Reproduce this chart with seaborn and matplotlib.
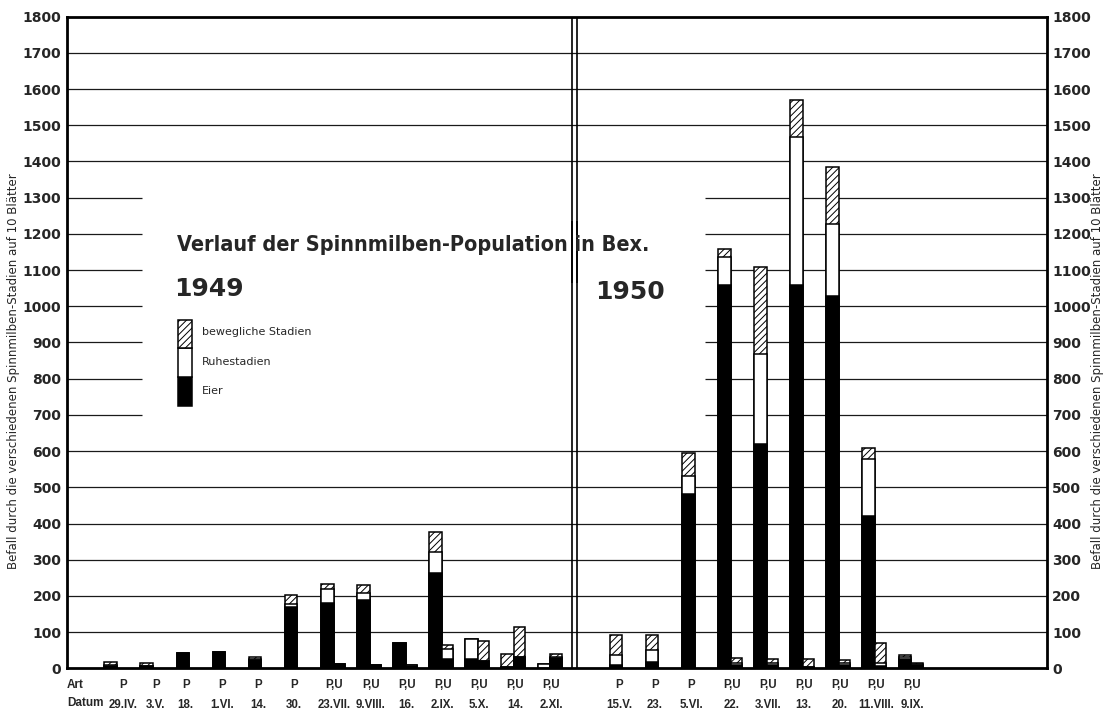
import numpy as np
import pandas as pd
import matplotlib.pyplot as plt
import seaborn as sns
from matplotlib.patches import Rectangle

# --- Datos (Befall auf 10 Blätter) ---
# 1949
datum_49 = ["29.IV.", "3.V.", "18.", "1.VI.", "14.", "30.", "23.VII.",
            "9.VIII.", "16.", "2.IX.", "5.X.", "14.", "2.XI."]
art_49 = ["P", "P", "P", "P", "P", "P", "P,U", "P,U", "P,U", "P,U", "P,U", "P,U", "P,U"]
p_eier_49 = [6, 5, 41, 44, 24, 170, 181, 190, 69, 262, 25, 3, 2]
p_ruhe_49 = [3, 2, 0, 0, 2, 8, 37, 19, 0, 60, 55, 0, 10]
p_beweg_49 = [9, 8, 0, 0, 6, 24, 16, 21, 0, 54, 0, 36, 0]
u_eier_49 = [0, 0, 0, 0, 0, 0, 12, 9, 7, 26, 21, 32, 28]
u_ruhe_49 = [0, 0, 0, 0, 0, 0, 0, 0, 3, 26, 0, 0, 4]
u_beweg_49 = [0, 0, 0, 0, 0, 0, 0, 0, 0, 12, 55, 81, 7]

# 1950
datum_50 = ["15.V.", "23.", "5.VI.", "22.", "3.VII.", "13.", "20.", "11.VIII.", "9.IX."]
art_50 = ["P", "P", "P", "P,U", "P,U", "P,U", "P,U", "P,U", "P,U"]
p_eier_50 = [9, 18, 482, 1059, 620, 1059, 1028, 422, 25]
p_ruhe_50 = [28, 33, 48, 76, 247, 409, 199, 157, 5]
p_beweg_50 = [55, 41, 64, 23, 242, 102, 159, 30, 7]
u_eier_50 = [0, 0, 0, 8, 10, 4, 10, 6, 9]
u_ruhe_50 = [0, 0, 0, 8, 5, 0, 6, 8, 3]
u_beweg_50 = [0, 0, 0, 12, 10, 21, 7, 55, 3]

titel = "Verlauf der Spinnmilben-Population in Bex."
ylabel = "Befall durch die verschiedenen Spinnmilben-Stadien auf 10 Blätter"

# posiciones en el eje x (1949: 1..13, hueco, 1950: 15..23)
pos_49 = np.arange(1, len(datum_49) + 1)
pos_50 = np.arange(15, 15 + len(datum_50))
u_shift = 0.335

filas = []
for pos, e, r, b, kind in zip(
        list(pos_49) + list(pos_50) + list(pos_49 + u_shift) + list(pos_50 + u_shift),
        p_eier_49 + p_eier_50 + u_eier_49 + u_eier_50,
        p_ruhe_49 + p_ruhe_50 + u_ruhe_49 + u_ruhe_50,
        p_beweg_49 + p_beweg_50 + u_beweg_49 + u_beweg_50,
        ["P"] * 22 + ["U"] * 22):
    if e + r + b > 0:
        filas.append({"pos": pos, "kind": kind, "eier": e, "ruhe": r, "beweg": b})
datos = pd.DataFrame(filas)
datos["top_beweg"] = datos["eier"] + datos["ruhe"] + datos["beweg"]
datos["top_ruhe"] = datos["eier"] + datos["ruhe"]
datos["top_eier"] = datos["eier"]

sns.set_style("white")
plt.rcParams["font.family"] = ["DejaVu Sans"]
plt.rcParams["hatch.linewidth"] = 0.7

fig = plt.figure(figsize=(11.04, 7.13), dpi=100)
W, H = 1104, 713
ax = fig.add_axes([67 / W, 1 - 668.3 / H, 979.7 / W, 651.6 / H])

XMIN, XMAX = -0.21, 26.93

# capas: total rayado, luego blanco (Ruhe), luego negro (Eier)
capas = [("top_beweg", "white", "/////"), ("top_ruhe", "white", None), ("top_eier", "black", None)]
for kind, ancho in [("P", 0.35), ("U", 0.31)]:
    sub = datos[datos["kind"] == kind]
    for col, color, hatch in capas:
        sns.barplot(data=sub, x="pos", y=col, native_scale=True, width=ancho,
                    color=color, saturation=1, edgecolor="black", linewidth=1.1,
                    hatch=hatch, errorbar=None, ax=ax, zorder=3)

# líneas horizontales (interrumpidas detrás del título)
for yv in range(100, 1800, 100):
    if 700 <= yv <= 1300:
        ax.hlines(yv, XMIN, 1.86, color="#1a1a1a", lw=0.9, zorder=1)
        ax.hlines(yv, 17.46, XMAX, color="#1a1a1a", lw=0.9, zorder=1)
    else:
        ax.hlines(yv, XMIN, XMAX, color="#1a1a1a", lw=0.9, zorder=1)

# doble línea separadora 1949 / 1950
ax.vlines([13.78, 13.92], 0, 1237, color="black", lw=1.2, zorder=4)
ax.vlines([13.78, 13.92], 1064, 1800, color="black", lw=1.2, zorder=4)

ax.set_xlim(XMIN, XMAX)
ax.set_ylim(0, 1800)
ax.set_yticks(range(0, 1900, 100))
ax.tick_params(axis="y", length=0, pad=4, labelsize=10, labelright=True)
for t in ax.get_yticklabels():
    t.set_fontweight("bold")

# etiquetas: las dos primeras un poco a la derecha (como en el original)
desplaz = [0.35, 0.25] + [0.08] * 20
xt = [p + (d if a == "P" else 0.2)
      for p, a, d in zip(list(pos_49) + list(pos_50), art_49 + art_50, desplaz)]
ax.set_xticks(xt)
ax.set_xticklabels([f"{a}\n{d}" for a, d in zip(art_49 + art_50, datum_49 + datum_50)])
ax.tick_params(axis="x", length=0, pad=8)
for t in ax.get_xticklabels():
    t.set_fontfamily("Liberation Sans")
    t.set_fontsize(8.3)
    t.set_fontweight("bold")
    t.set_linespacing(1.85)
ax.set_xlabel("")
ax.set_ylabel("")

for s in ax.spines.values():
    s.set_visible(True)
    s.set_color("black")
    s.set_linewidth(2)

fig.text(67 / W, 1 - 685 / H, "Art", ha="left", va="center", fontsize=8.5,
         fontweight="bold", family="Liberation Sans")
fig.text(67 / W, 1 - 703 / H, "Datum", ha="left", va="center", fontsize=8.5,
         fontweight="bold", family="Liberation Sans")

fig.text(14 / W, 1 - 371 / H, ylabel, rotation=90, ha="center", va="center", fontsize=8.5)
fig.text(1097 / W, 1 - 371 / H, ylabel, rotation=90, ha="center", va="center", fontsize=8.5)

fig.text(413 / W, 1 - 245 / H, titel, ha="center", va="center", fontsize=15.5,
         fontweight="bold", fontstretch="condensed")
fig.text(209 / W, 1 - 289 / H, "1949", ha="center", va="center", fontsize=18, fontweight="bold")
fig.text(630 / W, 1 - 292 / H, "1950", ha="center", va="center", fontsize=18, fontweight="bold")

# leyenda dibujada como una barra
for y0, y1, color, hatch in [(377, 406, "black", None), (348, 377, "white", None),
                             (320, 348, "white", "/////")]:
    fig.patches.append(Rectangle((178 / W, 1 - y1 / H), 14 / W, (y1 - y0) / H,
                                 transform=fig.transFigure, facecolor=color,
                                 edgecolor="black", lw=1.1, hatch=hatch))
fig.text(202 / W, 1 - 332 / H, "bewegliche Stadien", ha="left", va="center", fontsize=8)
fig.text(202 / W, 1 - 362 / H, "Ruhestadien", ha="left", va="center", fontsize=8)
fig.text(202 / W, 1 - 391 / H, "Eier", ha="left", va="center", fontsize=8)

fig.savefig("out.png", dpi=100)
